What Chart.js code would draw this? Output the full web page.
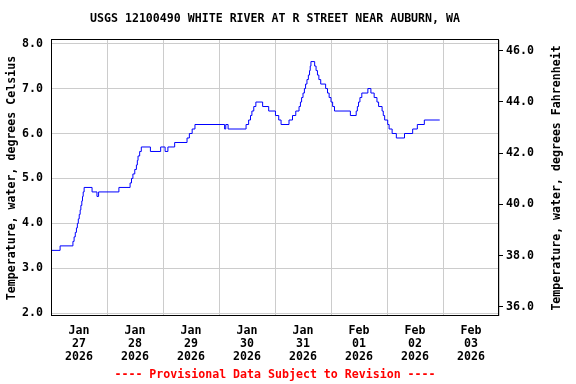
<!DOCTYPE html>
<html>
<head>
<meta charset="utf-8">
<script src="https://cdn.jsdelivr.net/npm/chart.js@4"></script>
<style>
  html, body { margin: 0; padding: 0; background: #fff; }
  #wrap { width: 576px; height: 384px; }
</style>
</head>
<body>
<div id="wrap"><canvas id="tempChart" width="576" height="384"></canvas></div>
<script>
// hours since Jan 27 2026 00:00, value holds until the next entry
const hours = [0, 3.9, 9.4, 9.9, 10.4, 10.9, 11.3, 11.7, 12.1, 12.5, 12.8, 13.2, 13.5, 13.8, 14.2,
  17.6, 19.7, 20.4, 29.1, 33.9, 34.5, 35.1, 35.9, 36.6, 37.0, 37.3, 38.0, 38.7, 42.6, 47.0,
  48.9, 50.1, 53.0, 58.3, 59.3, 60.5, 61.7, 74.4, 74.9, 75.9, 83.6, 84.7, 85.5, 86.1, 86.9,
  87.8, 90.7, 93.3, 96.2, 97.6, 98.6, 102.0, 103.5, 104.9, 106.3, 106.9, 107.4, 108.0, 108.6,
  109.1, 109.7, 110.3, 110.8, 111.1, 111.4, 113.0, 113.6, 114.2, 114.8, 115.6, 117.7, 118.5,
  119.2, 120.0, 120.7, 121.5, 128.3, 130.8, 131.3, 131.8, 132.4, 133.2, 135.8, 137.1, 138.5,
  139.7, 140.4, 141.9, 142.4, 143.0, 144.3, 144.9, 146.2, 148.0, 151.5, 155.0, 157.0, 160.0, 166.6];
const tempC = [3.4, 3.5, 3.6, 3.7, 3.8, 3.9, 4.0, 4.1, 4.2, 4.3, 4.4, 4.5, 4.6, 4.7, 4.8,
  4.7, 4.6, 4.7, 4.8, 4.9, 5.0, 5.1, 5.2, 5.3, 5.4, 5.5, 5.6, 5.7, 5.6, 5.7,
  5.6, 5.7, 5.8, 5.9, 6.0, 6.1, 6.2, 6.1, 6.2, 6.1, 6.2, 6.3, 6.4, 6.5, 6.6,
  6.7, 6.6, 6.5, 6.4, 6.3, 6.2, 6.3, 6.4, 6.5, 6.6, 6.7, 6.8, 6.9, 7.0,
  7.1, 7.2, 7.3, 7.4, 7.5, 7.6, 7.5, 7.4, 7.3, 7.2, 7.1, 7.0, 6.9,
  6.8, 6.7, 6.6, 6.5, 6.4, 6.5, 6.6, 6.7, 6.8, 6.9, 7.0, 6.9, 6.8,
  6.7, 6.6, 6.5, 6.4, 6.3, 6.2, 6.1, 6.0, 5.9, 6.0, 6.1, 6.2, 6.3, 6.3];

const tickMonths = ['Jan', 'Jan', 'Jan', 'Jan', 'Jan', 'Feb', 'Feb', 'Feb'];
const tickDays = ['27', '28', '29', '30', '31', '01', '02', '03'];
const tickYear = '2026';

const chartTitle = 'USGS 12100490 WHITE RIVER AT R STREET NEAR AUBURN, WA';
const leftTitle = 'Temperature, water, degrees Celsius';
const rightTitle = 'Temperature, water, degrees Fahrenheit';
const footNote = '---- Provisional Data Subject to Revision ----';

const FAMILY = '"DejaVu Sans Mono", "Liberation Mono", monospace';
const tickFont = { family: FAMILY, size: 11.6, weight: 'bold', lineHeight: '13px' };
const GRID = '#cccccc';

const points = hours.map((h, i) => ({ x: h, y: tempC[i] }));

const extras = {
  id: 'extras',
  afterDraw(chart) {
    const { ctx, chartArea: a } = chart;
    const cx = (a.left + a.right) / 2;
    const cy = (a.top + a.bottom) / 2;
    ctx.save();
    ctx.strokeStyle = '#000';
    ctx.lineWidth = 1;
    ctx.strokeRect(Math.round(a.left) + 0.5, Math.round(a.top) - 0.5,
      Math.round(a.right - a.left) - 1, Math.round(a.bottom - a.top));
    ctx.font = 'bold 11.6px ' + FAMILY;
    ctx.textAlign = 'center';
    ctx.textBaseline = 'middle';
    ctx.fillStyle = '#000';
    ctx.fillText(chartTitle, cx, 19);
    ctx.fillStyle = '#ff0000';
    ctx.fillText(footNote, cx, 375);
    ctx.fillStyle = '#000';
    ctx.translate(557, cy);
    ctx.rotate(-Math.PI / 2);
    ctx.fillText(rightTitle, 0, 0);
    ctx.restore();
  }
};

new Chart(document.getElementById('tempChart').getContext('2d'), {
  type: 'line',
  data: {
    datasets: [{
      data: points,
      yAxisID: 'y',
      borderColor: '#0000ff',
      borderWidth: 1,
      pointRadius: 0,
      stepped: true,
      fill: false
    }]
  },
  options: {
    responsive: false,
    animation: false,
    devicePixelRatio: 1,
    layout: { padding: { top: 40, left: 0, right: 0, bottom: 0 } },
    plugins: {
      legend: { display: false },
      tooltip: { enabled: false }
    },
    scales: {
      x: {
        type: 'linear',
        min: 0,
        max: 192,
        afterBuildTicks: function (scale) {
          const t = [];
          for (let v = 0; v <= 192; v += 12) t.push({ value: v });
          scale.ticks = t;
        },
        afterFit: function (scale) { scale.height = 68; },
        grid: {
          color: function (c) { return c.tick && c.tick.value % 24 === 0 ? GRID : 'rgba(0,0,0,0)'; },
          drawTicks: false
        },
        border: { display: false },
        ticks: {
          autoSkip: false,
          maxRotation: 0,
          minRotation: 0,
          padding: 8,
          color: '#000',
          font: tickFont,
          callback: function (v) {
            if (v % 24 !== 12) return '';
            const d = Math.floor(v / 24);
            return [tickMonths[d], tickDays[d], tickYear];
          }
        }
      },
      y: {
        position: 'left',
        min: 1.94,
        max: 8.08,
        afterFit: function (scale) { scale.width = 51; },
        grid: { color: GRID, drawTicks: false },
        border: { display: false },
        ticks: {
          stepSize: 1,
          includeBounds: false,
          padding: 8,
          color: '#000',
          font: tickFont,
          callback: function (v) { return v.toFixed(1); }
        },
        title: {
          display: true,
          text: leftTitle,
          color: '#000',
          font: tickFont,
          padding: { top: 5, bottom: 0 }
        }
      },
      y2: {
        position: 'right',
        min: 35.64,
        max: 46.41,
        afterFit: function (scale) { scale.width = 77; },
        grid: { drawOnChartArea: false, drawTicks: true, tickLength: 4, color: '#000' },
        border: { display: false },
        ticks: {
          stepSize: 2,
          includeBounds: false,
          padding: 3,
          color: '#000',
          font: tickFont,
          callback: function (v) { return v.toFixed(1); }
        }
      }
    }
  },
  plugins: [extras]
});
</script>
</body>
</html>
